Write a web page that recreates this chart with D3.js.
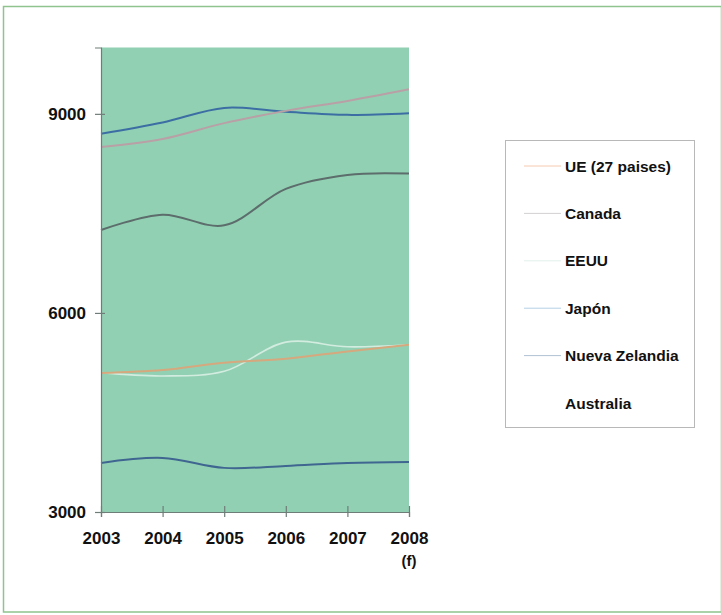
<!DOCTYPE html>
<html>
<head>
<meta charset="utf-8">
<script src="https://cdn.jsdelivr.net/npm/d3@7"></script>
<style>
  html, body { margin: 0; padding: 0; background: #ffffff; }
  svg { display: block; }
  text { font-family: "Liberation Sans", Arial, sans-serif; font-weight: bold; fill: #111; }
</style>
</head>
<body>
<svg id="chart" width="721" height="615"></svg>
<script>
// Years on the x axis (2008 is a forecast)
const years = [2003, 2004, 2005, 2006, 2007, 2008];
const yTicks = [3000, 6000, 9000];

// Series values per year
const ue       = [5095, 5140, 5250, 5310, 5420, 5520];
const canada   = [8500, 8620, 8860, 9045, 9195, 9370];
const eeuu     = [5100, 5050, 5120, 5560, 5490, 5520];
const japon    = [8700, 8870, 9090, 9030, 8985, 9010];
const nz       = [3740, 3815, 3665, 3695, 3740, 3755];
const australia= [7250, 7480, 7320, 7870, 8080, 8100];

const seriesNames  = ["UE (27 paises)", "Canada", "EEUU", "Japón", "Nueva Zelandia", "Australia"];
const seriesValues = [ue, canada, eeuu, japon, nz, australia];
const lineColors   = ["#d5a87e", "#b8a0a6", "#d2ece0", "#3c6ea4", "#3f6690", "#5c6d6c"];
const legendColors = ["#f6c8b0", "#d4d0d2", "#e2f0ea", "#b4d0e6", "#b0c2d4", "#ffffff"];

const svg = d3.select("#chart");

// Outer frame
svg.append("rect")
  .attr("x", 3.5).attr("y", 6.5)
  .attr("width", 718).attr("height", 605.5)
  .attr("fill", "none").attr("stroke", "#8fc48e").attr("stroke-width", 1.5);

const plot = { left: 101, right: 409, top: 47.5, bottom: 512 };

const x = d3.scaleLinear().domain([2003, 2008]).range([plot.left, plot.right]);
const y = d3.scaleLinear().domain([3000, 10000]).range([plot.bottom, plot.top]);

// Plot background
svg.append("rect")
  .attr("x", plot.left).attr("y", plot.top)
  .attr("width", plot.right - plot.left).attr("height", plot.bottom - plot.top)
  .attr("fill", "#92d0b3");

// Lines
const line = d3.line()
  .x((d, i) => x(years[i]))
  .y(d => y(d))
  .curve(d3.curveCatmullRom.alpha(0.5));

const drawOrder = [5, 4, 3, 1, 2, 0];
drawOrder.forEach(k => {
  svg.append("path")
    .datum(seriesValues[k])
    .attr("d", line)
    .attr("fill", "none")
    .attr("stroke", lineColors[k])
    .attr("stroke-width", k === 2 ? 1.6 : 2)
    .attr("stroke-linejoin", "round");
});

// Y axis (ticks cross the axis line)
svg.append("g").attr("transform", `translate(${plot.left},0)`)
  .call(d3.axisLeft(y).tickValues(yTicks).tickSize(6).tickPadding(9).tickFormat(d3.format("d")));
svg.append("g").attr("transform", `translate(${plot.left},0)`)
  .call(d3.axisLeft(y).tickValues(yTicks).tickSize(-4).tickFormat(""))
  .select(".domain").remove();

// X axis
svg.append("g").attr("transform", `translate(0,${plot.bottom})`)
  .call(d3.axisBottom(x).tickValues(years).tickSize(5).tickPadding(15).tickFormat(d3.format("d")));
svg.append("g").attr("transform", `translate(0,${plot.bottom})`)
  .call(d3.axisBottom(x).tickValues(years).tickSize(-6).tickFormat(""))
  .select(".domain").remove();

svg.selectAll(".domain").attr("stroke", "#6f7d78").attr("stroke-width", 1.2);
svg.selectAll(".tick line").attr("stroke", "#6f7d78").attr("stroke-width", 1.2);
svg.selectAll(".tick text")
  .attr("font-size", 17)
  .attr("font-family", "Liberation Sans, Arial, sans-serif")
  .attr("font-weight", "bold")
  .attr("fill", "#111");

// Forecast marker under the last year
svg.append("text")
  .attr("x", x(2008)).attr("y", 566)
  .attr("text-anchor", "middle")
  .attr("font-size", 15)
  .text("(f)");

// Legend
const legend = svg.append("g");
legend.append("rect")
  .attr("x", 505.5).attr("y", 140.5)
  .attr("width", 189).attr("height", 287)
  .attr("fill", "#ffffff").attr("stroke", "#b8b8b8").attr("stroke-width", 1);

const legendY = d3.scalePoint().domain(seriesNames).range([166, 403]);
seriesNames.forEach((name, k) => {
  const yy = legendY(name);
  legend.append("line")
    .attr("x1", 524).attr("x2", 561)
    .attr("y1", yy).attr("y2", yy)
    .attr("stroke", legendColors[k]).attr("stroke-width", 1);
  legend.append("text")
    .attr("x", 565).attr("y", yy)
    .attr("dy", "0.36em")
    .attr("font-size", 15.5)
    .text(name);
});
</script>
</body>
</html>
